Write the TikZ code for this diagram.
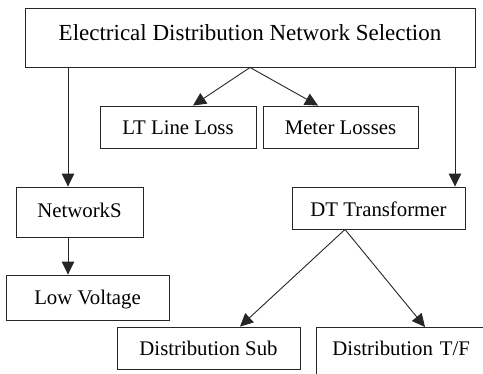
\documentclass[tikz,border=0pt]{standalone}
\usepackage{fontspec}
\setmainfont{Liberation Serif}
\usetikzlibrary{arrows.meta}
\begin{document}
\begin{tikzpicture}[x=1bp,y=-1bp,
  box/.style={draw=black!85, line width=0.9bp, inner sep=0pt, font=\fontsize{20.8bp}{25bp}\selectfont, text height=14bp},
  arr/.style={draw=black!85, line width=0.9bp, -{Triangle[width=12.5bp,length=13bp]}}]
\useasboundingbox (0,0) rectangle (483,373);
\node[box, font=\fontsize{23bp}{27bp}\selectfont, minimum width=450bp, minimum height=59bp, text depth=9bp] (top) at (250,37.5) {Electrical Distribution Network Selection};
\node[box, minimum width=156bp, minimum height=42bp, text depth=0bp] (lt) at (178,127) {LT Line Loss};
\node[box, minimum width=155bp, minimum height=42bp, text depth=0bp] (meter) at (340.5,127) {Meter Losses};
\node[box, minimum width=127bp, minimum height=50bp, text depth=4bp] (net) at (79.5,212) {NetworkS};
\node[box, minimum width=163bp, minimum height=45bp, text depth=1bp] (lv) at (87.5,297.5) {Low Voltage};
\node[box, minimum width=173bp, minimum height=42bp, text height=16bp, text depth=0bp] (dt) at (378.5,208) {DT Transformer};
\node[box, minimum width=183bp, minimum height=42bp, text depth=0bp] (dsub) at (208.5,348) {Distribution Sub};
\node[box, anchor=north west, text width=168bp, align=left, inner xsep=16bp, minimum height=60bp, text depth=18bp] (dtf) at (316,327) {Distribution T/F};
\draw[arr] (top.south) -- ([xshift=15bp]lt.north);
\draw[arr] (top.south) -- ([xshift=-22.5bp]meter.north);
\draw[arr] ([xshift=-11.5bp]net.north |- top.south) -- ([xshift=-11.5bp]net.north);
\draw[arr] ([xshift=76.5bp]dt.north |- top.south) -- ([xshift=76.5bp]dt.north);
\draw[arr] ([xshift=-11.5bp]net.south) -- ([xshift=-11.5bp]net.south |- lv.north);
\draw[arr] ([xshift=-33.5bp]dt.south) -- ([xshift=31.5bp]dsub.north);
\draw[arr] ([xshift=-33.5bp]dt.south) -- ([xshift=109bp]dtf.north west);
\end{tikzpicture}
\end{document}
